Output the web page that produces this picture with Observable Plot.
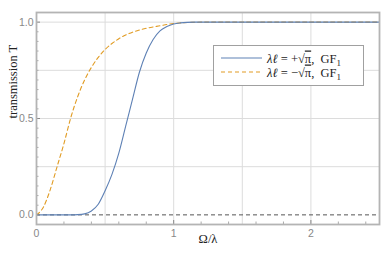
<!DOCTYPE html>
<html><head><meta charset="utf-8">
<script src="https://cdn.jsdelivr.net/npm/d3@7"></script>
<script src="https://cdn.jsdelivr.net/npm/@observablehq/plot@0.6"></script>
<style>body{margin:0;background:#fff}</style>
</head><body><div id="chart"></div>
<script>
const omega = [0,0.05,0.1,0.15,0.2,0.25,0.3,0.35,0.4,0.45,0.5,0.55,0.6,0.65,0.7,0.75,0.8,0.85,0.9,0.95,1.0,1.05,1.1,1.15,1.2,1.3,1.4,1.5,1.75,2.0,2.25,2.5];
const tPlus  = [0,0,0,0,0,0,0.001,0.005,0.02,0.055,0.125,0.21,0.32,0.46,0.6,0.74,0.84,0.91,0.955,0.977,0.99,0.996,0.999,1,1,1,1,1,1,1,1,1];
const tMinus = [0,0.04,0.13,0.25,0.37,0.505,0.613,0.699,0.765,0.817,0.858,0.889,0.914,0.933,0.948,0.959,0.968,0.975,0.981,0.988,0.993,0.996,0.998,0.999,1,1,1,1,1,1,1,1];
const xTicks = [0,1,2];
const yTicks = [0,0.5,1];
const xGrid = [0.5,1,1.5,2];
const yGrid = [0.25,0.5,0.75,1];
const xMinor = [0.2,0.4,0.6,0.8,1.2,1.4,1.6,1.8,2.2,2.4];
const yMinor = d3.range(1,21).map(i=>i*0.05).filter(v=>Math.abs(v*2-Math.round(v*2))>1e-9);

const plus = omega.map((x,i)=>({x, y:tPlus[i]}));
const minus = omega.map((x,i)=>({x, y:tMinus[i]}));
const blue = "#5E81B5", orange = "#E19C24";
const serif = "'Liberation Serif', 'DejaVu Serif', serif";

const chart = Plot.plot({
  width: 390, height: 257,
  marginLeft: 36, marginTop: 12, marginRight: 11, marginBottom: 33,
  x: {domain: [0, 2.5]},
  y: {domain: [-0.05, 1.05]},
  style: {fontFamily: "'Liberation Sans', Arial, sans-serif", background: "#fff"},
  marks: [
    Plot.gridX(xGrid, {stroke: "#dcdcdc", strokeOpacity: 1}),
    Plot.gridY(yGrid, {stroke: "#dcdcdc", strokeOpacity: 1}),
    Plot.ruleY([0], {stroke: "#555", strokeDasharray: "4,3", strokeWidth: 1}),
    Plot.line(minus, {x: "x", y: "y", stroke: orange, strokeWidth: 1.1, strokeDasharray: "4,3", curve: "monotone-x"}),
    Plot.line(plus, {x: "x", y: "y", stroke: blue, strokeWidth: 1.1, curve: "monotone-x"}),
    Plot.axisX(xTicks, {tickSize: 0, tickPadding: 5, tickFormat: "d", fill: "#888", fontSize: 10.5, label: null}),
    Plot.axisY(yTicks, {tickSize: 0, tickPadding: 3, tickFormat: ".1f", fill: "#888", fontSize: 10.5, label: null}),
    Plot.axisX(xTicks, {tickSize: -4, text: null, stroke: "#888", label: null}),
    Plot.axisX(xMinor, {tickSize: -2.5, text: null, stroke: "#aaa", label: null}),
    Plot.axisY(yTicks, {tickSize: -4, text: null, stroke: "#888", label: null}),
    Plot.axisY(yMinor, {tickSize: -2.5, text: null, stroke: "#aaa", label: null}),
    Plot.frame({stroke: "#b4b4b4", strokeWidth: 1.8}),
    Plot.text(["transmission T"], {frameAnchor: "left", rotate: -90, dx: -24, fontFamily: serif, fontSize: 12.5, fill: "#222"}),
    Plot.text(["Ω/λ"], {frameAnchor: "bottom", dy: 18, fontFamily: serif, fontSize: 12.5, fill: "#222"})
  ]
});
document.getElementById("chart").appendChild(chart);

// legend
const svg = d3.select(chart);
const lg = svg.append("g").attr("text-anchor", "start");
lg.append("rect").attr("x", 213.5).attr("y", 45.5).attr("width", 150).attr("height", 40)
  .attr("fill", "#fff").attr("stroke", "#a0a0a0").attr("stroke-width", 1);
const rows = [{c: blue, dash: null, y: 58}, {c: orange, dash: "4,3", y: 72}];
rows.forEach((r, i) => {
  lg.append("line").attr("x1", 221).attr("x2", 262).attr("y1", r.y).attr("y2", r.y)
    .attr("stroke", r.c).attr("stroke-width", 1.2).attr("stroke-dasharray", r.dash);
  const t = lg.append("text").attr("x", 267).attr("y", r.y + 4.5)
    .attr("font-family", serif).attr("font-size", 12.5).attr("fill", "#222");
  t.append("tspan").attr("font-style", "italic").text("λℓ");
  t.append("tspan").text(i === 0 ? " = +√" : " = −√");
  t.append("tspan").attr("text-decoration", "overline").text("π");
  t.append("tspan").text(",  GF");
  t.append("tspan").attr("font-size", 9).attr("dy", 3).text("1");
});
</script>
</body></html>
